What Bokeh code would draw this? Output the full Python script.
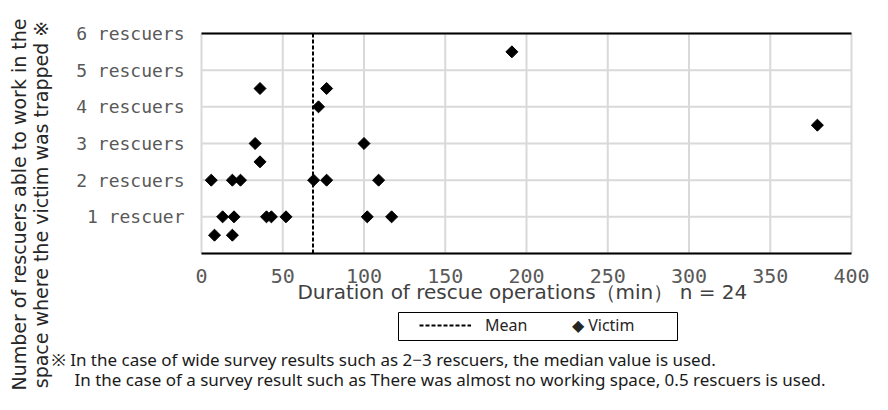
import numpy as np
from bokeh.plotting import figure
from bokeh.models import (Range1d, Label, Legend, LegendItem, BoxAnnotation)
from bokeh.core.properties import value
from bokeh.embed import file_html
from bokeh.resources import INLINE

# ---------------- data ----------------
duration_min = [36, 77, 72, 33, 100, 36, 6, 19, 24, 69, 77, 109,
                13, 20, 40, 43, 52, 102, 117, 8, 19, 191, 379]
rescuers = [4.5, 4.5, 4, 3, 3, 2.5, 2, 2, 2, 2, 2, 2,
            1, 1, 1, 1, 1, 1, 1, 0.5, 0.5, 5.5, 3.5]
mean_duration = 68.6

x_ticks = [0, 50, 100, 150, 200, 250, 300, 350, 400]
x_tick_labels = [str(t) for t in x_ticks]
y_grid = [0, 1, 2, 3, 4, 5, 6]
y_ticks = [1, 2, 3, 4, 5, 6]
y_tick_labels = ["1 rescuer", "2 rescuers", "3 rescuers",
                 "4 rescuers", "5 rescuers", "6 rescuers"]

x_title = "Duration of rescue operations（min）  n = 24"
y_title_1 = "Number of rescuers able to work in the"
y_title_2 = "space where the victim was trapped ※"
legend_mean = "Mean"
legend_victim = "◆ Victim"
note_1 = "※ In the case of wide survey results such as 2−3 rescuers, the median value is used."
note_2 = "In the case of a survey result such as There was almost no working space, 0.5 rescuers is used."

# ---------------- layout (pixels) ----------------
W, H = 872, 394
PL, PR, PT, PB = 201, 851, 33, 253          # plot area box
x0, x1 = x_ticks[0], x_ticks[-1]
y0, y1 = y_grid[0], y_grid[-1]
kx = (PR - PL) / (x1 - x0)
ky = (PB - PT) / (y1 - y0)

p = figure(width=W, height=H, output_backend="svg", toolbar_location=None,
           x_range=Range1d(x0 - PL / kx, x1 + (W - PR) / kx),
           y_range=Range1d(y0 - (H - PB) / ky, y1 + PT / ky),
           min_border=0)
p.axis.visible = False
p.grid.visible = False
p.outline_line_color = None
p.background_fill_color = "white"
p.border_fill_color = "white"

n_x = len(x_ticks)
n_y = len(y_grid)
# vertical grid lines
p.segment(x0=x_ticks, y0=[y0] * n_x, x1=x_ticks, y1=[y1] * n_x,
          line_color="#d9d9d9", line_width=2)
# horizontal grid lines
p.segment(x0=[x0] * n_y, y0=y_grid, x1=[x1] * n_y, y1=y_grid,
          line_color="#d9d9d9", line_width=2)
# top / bottom black borders
p.segment(x0=[x0, x0], y0=[y0, y1], x1=[x1, x1], y1=[y0, y1],
          line_color="black", line_width=2)

# tick labels
p.text(x=x_ticks, y=[y0] * n_x, text=x_tick_labels, y_offset=22,
       text_align="center", text_baseline="middle",
       text_font=value("DejaVu Sans Mono"), text_font_size="20px", text_color="#595959")
p.text(x=[x0] * len(y_ticks), y=y_ticks, text=y_tick_labels, x_offset=-17,
       text_align="right", text_baseline="middle",
       text_font=value("DejaVu Sans Mono"), text_font_size="18px", text_color="#595959")

# mean line
mean_r = p.segment(x0=[mean_duration], y0=[y0], x1=[mean_duration], y1=[y1],
                   line_color="black", line_width=2, line_dash="4 2")

# victims
vic_r = p.scatter(duration_min, rescuers, marker="square", angle=np.pi / 4,
                  size=8.5, fill_color="black", line_color="black")

# ---------------- legend ----------------
LEG_T, LEG_B = 312, 340
p.add_layout(BoxAnnotation(left=398, right=677, top=H - LEG_T, bottom=H - LEG_B,
                           left_units="screen", right_units="screen",
                           top_units="screen", bottom_units="screen",
                           fill_color="white", fill_alpha=1,
                           line_color="black", line_width=1, line_alpha=1,
                           level="annotation"))
leg_y = H - (LEG_T + LEG_B) / 2 - 10
leg1 = Legend(items=[LegendItem(label=legend_mean, renderers=[mean_r])],
              location=(419, leg_y), orientation="horizontal",
              glyph_width=52, glyph_height=20, label_height=20, label_standoff=14,
              padding=0, margin=0, border_line_color=None,
              background_fill_alpha=0,
              label_text_font="Noto Sans", label_text_font_size="16px",
              label_text_color="#262626")
leg2 = Legend(items=[LegendItem(label=legend_victim, renderers=[vic_r])],
              location=(572, leg_y), orientation="horizontal",
              glyph_width=0, glyph_height=20, label_height=20, label_standoff=0,
              padding=0, margin=0, border_line_color=None,
              background_fill_alpha=0,
              label_text_font="Noto Sans", label_text_font_size="16px",
              label_text_color="#262626")
p.add_layout(leg1)
p.add_layout(leg2)

# ---------------- titles and notes ----------------
p.add_layout(Label(x=(PL + PR) / 2 - 1, y=H - 291, x_units="screen", y_units="screen",
                   text=x_title, text_align="center", text_baseline="middle",
                   text_font="DejaVu Sans", text_font_size="20px", text_color="#404040"))
p.add_layout(Label(x=18, y=H - 204, x_units="screen", y_units="screen", text=y_title_1,
                   angle=np.pi / 2, text_align="center", text_baseline="middle",
                   text_font="DejaVu Sans", text_font_size="19px", text_color="#262626"))
p.add_layout(Label(x=40, y=H - 204, x_units="screen", y_units="screen", text=y_title_2,
                   angle=np.pi / 2, text_align="center", text_baseline="middle",
                   text_font="DejaVu Sans", text_font_size="19px", text_color="#262626"))
p.add_layout(Label(x=51, y=H - 359, x_units="screen", y_units="screen", text=note_1,
                   text_align="left", text_baseline="middle",
                   text_font="Noto Sans", text_font_size="17px", text_color="#1a1a1a"))
p.add_layout(Label(x=74, y=H - 379, x_units="screen", y_units="screen", text=note_2,
                   text_align="left", text_baseline="middle",
                   text_font="Noto Sans", text_font_size="17px", text_color="#1a1a1a"))

open("out.html", "w").write(file_html(p, INLINE))
